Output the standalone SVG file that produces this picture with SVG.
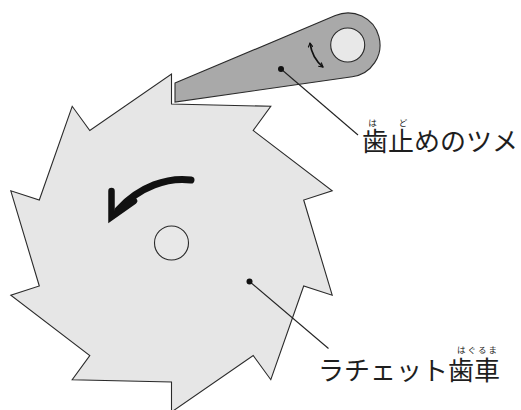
<svg xmlns="http://www.w3.org/2000/svg" width="521" height="410" viewBox="0 0 521 410">
  <defs>
    <style>
      .part { stroke: #2a2a2a; stroke-width: 1.1; stroke-linejoin: miter; }
      .gear { fill: #e6e6e6; }
      .pawl { fill: #a9a9a9; }
      .hole { fill: #e8e8e8; stroke: #2a2a2a; stroke-width: 1.1; }
      .leader { stroke: #222; stroke-width: 1.1; fill: none; }
      .dot { fill: #111; }
      .label { font-family: "Noto Sans CJK JP", "Noto Sans", sans-serif; fill: #1e1e1e; font-size: 26px; }
      .ruby { font-family: "Noto Sans CJK JP", "Noto Sans", sans-serif; fill: #1e1e1e; font-size: 8.5px; }
    </style>
    <marker id="tip" viewBox="0 0 10 10" refX="8" refY="5" markerWidth="6" markerHeight="6" orient="auto-start-reverse" markerUnits="userSpaceOnUse">
      <path d="M1,1 L8,5 L1,9" fill="none" stroke="#111" stroke-width="1.8"/>
    </marker>
  </defs>

  <rect width="521" height="410" fill="#ffffff"/>

  <!-- ratchet wheel: 10 teeth, radial back faces -->
  <g id="ratchet-wheel">
    <polygon class="part gear" points="171.5,74 171.5,104 270.8,106.3 253.2,130.5 332.2,190.8 303.7,200 332.2,295.2 303.7,286 270.8,379.7 253.2,355.5 171.5,412 171.5,382 72.2,379.7 89.8,355.5 10.8,295.2 39.3,286 10.8,190.8 39.3,200 72.2,106.3 89.8,130.5"/>
    <circle class="hole" cx="171.5" cy="243" r="17" fill="#e6e6e6"/>
    <!-- rotation direction -->
    <path d="M191,180 C168,177 140,186 118,210" fill="none" stroke="#111" stroke-width="7" stroke-linecap="round"/>
    <polyline points="111.5,191 111.5,217 134,201" fill="none" stroke="#111" stroke-width="6.5" stroke-linejoin="miter" stroke-linecap="round"/>
  </g>

  <!-- pawl (click) resting on a tooth -->
  <g id="pawl">
    <path class="part pawl" d="M175,83 L335.3,15.6 A32,32 0 1 1 352.2,76.7 L175,102 Z"/>
    <circle class="hole" cx="347.7" cy="45" r="17"/>
    <path d="M310,43 Q312,58 323,67" fill="none" stroke="#111" stroke-width="1.8" marker-start="url(#tip)" marker-end="url(#tip)"/>
  </g>

  <!-- leaders -->
  <g id="connectors">
    <line class="leader" x1="281" y1="69" x2="358" y2="135"/>
    <circle class="dot" cx="281" cy="69" r="3"/>
    <line class="leader" x1="249.5" y1="281.5" x2="328.5" y2="348.5"/>
    <circle class="dot" cx="249.5" cy="281.5" r="3"/>
  </g>

  <g id="label-pawl">
    <text class="label" x="362" y="151">歯止めのツメ</text>
    <text class="ruby" x="372.5" y="126" text-anchor="middle">は</text>
    <text class="ruby" x="403" y="126" text-anchor="middle">ど</text>
  </g>

  <g id="label-wheel">
    <text class="label" x="318" y="380">ラチェット歯車</text>
    <text class="ruby" x="478" y="353" text-anchor="middle" letter-spacing="2">はぐるま</text>
  </g>
</svg>
